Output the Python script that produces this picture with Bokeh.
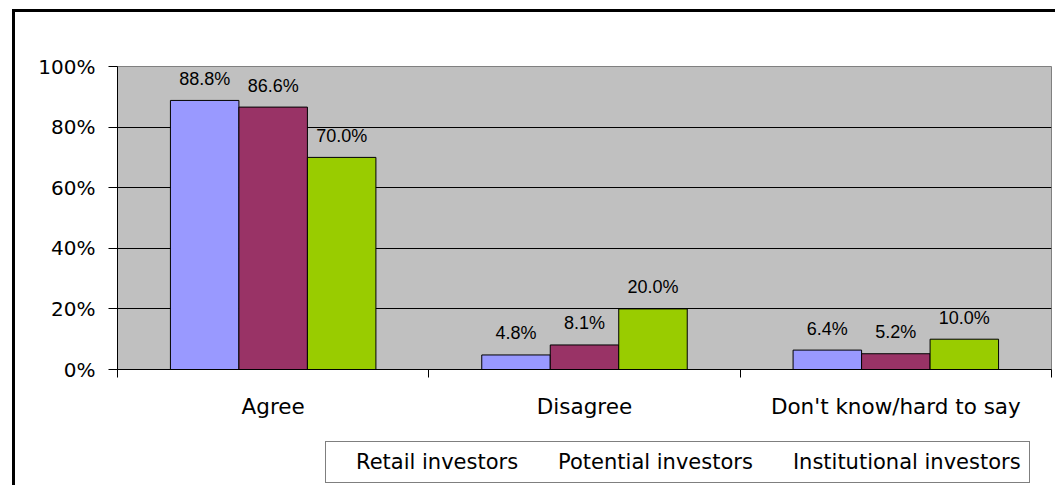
from bokeh.plotting import figure
from bokeh.models import (FixedTicker, PrintfTickFormatter, Legend, LegendItem,
                          ColumnDataSource, Range1d)
from bokeh.layouts import column
from bokeh.embed import file_html
from bokeh.resources import INLINE
from bokeh.core.properties import value

# ---- data ----
categories = ["Agree", "Disagree", "Don't know/hard to say"]
series_names = ["Retail investors", "Potential investors", "Institutional investors"]
retail = [88.8, 4.8, 6.4]
potential = [86.6, 8.1, 5.2]
institutional = [70.0, 20.0, 10.0]
y_ticks = [0, 20, 40, 60, 80, 100]
colors = ["#9999FF", "#993366", "#99CC00"]

# main chart: canvas sits at page (15, 12): 12px/9px margin + 3px border on the left/top
p = figure(frame_width=931, frame_height=300, output_backend="svg", toolbar_location=None,
           x_range=Range1d(0, len(categories)), y_range=Range1d(0, 100),
           min_border_left=102, min_border_right=7, min_border_top=54,
           min_border_bottom=62, margin=(9, 0, 0, 12),
           styles={"border-top": "3px solid black", "border-left": "3px solid black"})

p.background_fill_color = "#C0C0C0"
p.border_fill_color = "white"
p.outline_line_color = "#808080"
p.outline_line_width = 1

# y axis
p.yaxis.ticker = FixedTicker(ticks=y_ticks, minor_ticks=[])
p.yaxis.formatter = PrintfTickFormatter(format="%d%%")
p.yaxis.major_tick_out = 9
p.yaxis.major_tick_in = 0
p.yaxis.minor_tick_line_color = None
p.yaxis.axis_line_color = "black"
p.yaxis.major_tick_line_color = "black"
p.yaxis.major_label_text_font = "DejaVu Sans"
p.yaxis.major_label_text_font_size = "20px"
p.yaxis.major_label_text_color = "black"
p.yaxis.major_label_standoff = 13

# x axis: labels at category centres, ticks at category boundaries
centers = [i + 0.5 for i in range(len(categories))]
bounds = [float(i) for i in range(len(categories) + 1)]
p.xaxis.ticker = FixedTicker(ticks=centers, minor_ticks=bounds)
p.xaxis.major_label_overrides = {c: cat for c, cat in zip(centers, categories)}
p.xaxis.major_tick_line_color = None
p.xaxis.major_tick_out = 0
p.xaxis.major_tick_in = 0
p.xaxis.minor_tick_out = 8
p.xaxis.minor_tick_in = 0
p.xaxis.minor_tick_line_color = "black"
p.xaxis.axis_line_color = "black"
p.xaxis.major_label_text_font = "DejaVu Sans"
p.xaxis.major_label_text_font_size = "21.5px"
p.xaxis.major_label_text_color = "black"
p.xaxis.major_label_standoff = 16

p.xgrid.grid_line_color = None
p.ygrid.grid_line_color = "black"
p.ygrid.grid_line_width = 1

# bars
bar_w = 0.22
offsets = [-0.22, 0.0, 0.22]
for name, vals, col, off in zip(series_names, [retail, potential, institutional], colors, offsets):
    src = ColumnDataSource(dict(
        x=[c + off for c in centers],
        top=vals,
        label=[f"{v:.1f}%" for v in vals],
    ))
    p.vbar(x="x", top="top", bottom=0, width=bar_w, fill_color=col,
           line_color="black", line_width=1, source=src)
    p.text(x="x", y="top", text="label", source=src, text_align="center",
           text_baseline="middle", y_offset=-21.5,
           text_font=value("Liberation Sans"), text_font_size="18px",
           text_color="black")

# legend strip: a small axis-less figure directly under the chart
lf = figure(width=1040, height=57, output_backend="svg", toolbar_location=None,
            x_axis_location=None, y_axis_location=None,
            x_range=Range1d(0, 1), y_range=Range1d(0, 1), min_border=0,
            margin=(0, 0, 0, 12), styles={"border-left": "3px solid black"})
lf.outline_line_color = None
lf.background_fill_color = "white"
lf.border_fill_color = "white"
lf.xgrid.visible = False
lf.ygrid.visible = False

items = []
for name, col in zip(series_names, colors):
    rr = lf.vbar(x=[], top=[], width=0.1, fill_color=col, line_color="black", line_width=1)
    items.append(LegendItem(label=name, renderers=[rr]))

legend = Legend(items=items, orientation="horizontal", location=(208, 2))
legend.border_line_color = "black"
legend.border_line_width = 1
legend.background_fill_color = "white"
legend.background_fill_alpha = 1
legend.label_text_font = "DejaVu Sans"
legend.label_text_font_size = "21px"
legend.label_text_color = "black"
legend.glyph_width = 14
legend.glyph_height = 14
legend.label_standoff = 8
legend.spacing = 18
legend.padding = 8
legend.margin = 0
lf.add_layout(legend)

layout = column(p, lf, spacing=0)
open("out.html", "w").write(file_html(layout, INLINE))
